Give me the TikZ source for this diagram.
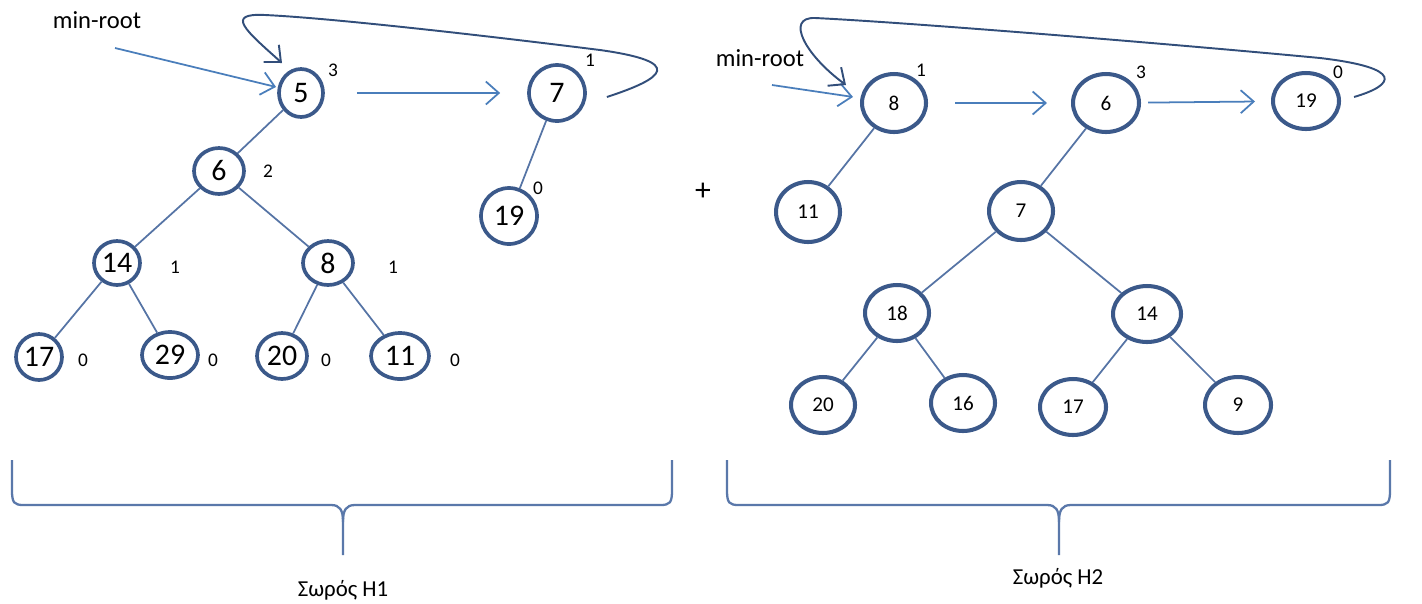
\documentclass[tikz,border=0pt]{standalone}
\usepackage{fontspec}
\setmainfont{Carlito}
\usetikzlibrary{shapes.geometric,arrows.meta}
\definecolor{ringBlue}{RGB}{59,89,138}
\definecolor{edgeBlue}{RGB}{86,116,165}
\definecolor{arrowBlue}{RGB}{74,126,187}
\definecolor{loopBlue}{RGB}{50,78,122}
\definecolor{braceBlue}{RGB}{90,120,170}

\begin{document}
\begin{tikzpicture}[x=0.02cm,y=-0.02cm,
  heapnode/.style={ellipse,draw=ringBlue,fill=white,inner sep=0pt},
  bignode/.style={heapnode,line width=2.1pt,font=\fontsize{17}{17}\selectfont},
  smallnode/.style={heapnode,line width=2.3pt,font=\fontsize{12}{12}\selectfont},
  deglbl/.style={inner sep=0pt,font=\fontsize{11}{11}\selectfont},
  treeedge/.style={edgeBlue,line width=1pt},
  listarrow/.style={arrowBlue,line width=1pt,-{Straight Barb[length=2.6mm,width=4.6mm]}},
  looparrow/.style={loopBlue,line width=1.1pt,-{Straight Barb[length=2.6mm,width=4.6mm]}},
  braceline/.style={braceBlue,line width=1.3pt}]
\useasboundingbox (0,0) rectangle (1422,603);

% heap H1
\node[font=\fontsize{14}{14}\selectfont] (mrA) at (97,20) {min-root};
\node[bignode,minimum width=0.88cm,minimum height=0.96cm] (a5) at (301,93) {5};
\node[bignode,minimum width=1.12cm,minimum height=1.12cm] (a7) at (557,93) {7};
\node[bignode,minimum width=1.00cm,minimum height=0.92cm] (a6) at (219,171) {6};
\node[bignode,minimum width=1.12cm,minimum height=1.12cm] (a19) at (509,216) {19};
\node[bignode,minimum width=0.92cm,minimum height=0.88cm] (a14) at (117,263) {14};
\node[bignode,minimum width=1.00cm,minimum height=0.88cm] (a8) at (328,263) {8};
\node[bignode,minimum width=0.92cm,minimum height=0.92cm] (a17) at (39,357) {17};
\node[bignode,minimum width=1.12cm,minimum height=0.92cm] (a29) at (170,355) {29};
\node[bignode,minimum width=1.00cm,minimum height=0.92cm] (a20) at (282,356) {20};
\node[bignode,minimum width=1.16cm,minimum height=0.92cm] (a11) at (400,356) {11};

\foreach \s/\t in {a5/a6,a6/a14,a6/a8,a14/a17,a14/a29,a8/a20,a8/a11,a7/a19}
  \draw[treeedge] (\s) -- (\t);

\coordinate (mrAtail) at (115,48);
\coordinate (loopAin) at (282,63);
\draw[listarrow,shorten >=1pt] (mrAtail) -- (a5);
\draw[listarrow,shorten <=0.64cm,shorten >=0.54cm] (a5) -- (a7);
\draw[looparrow] ([xshift=0.4cm,yshift=-0.08cm]a7.east)
  .. controls (665,78) and (685,62) .. (600,50)
  .. controls (480,35) and (330,18) .. (265,15)
  .. controls (225,13) and (245,30) .. (loopAin);

% heap H2
\node[font=\fontsize{14}{14}\selectfont] (mrB) at (760,58) {min-root};
\node[smallnode,minimum width=1.28cm,minimum height=1.16cm] (b8) at (894,103) {8};
\node[smallnode,minimum width=1.32cm,minimum height=1.16cm] (b6) at (1106,103) {6};
\node[smallnode,minimum width=1.32cm,minimum height=1.12cm] (b19) at (1306,101) {19};
\node[smallnode,minimum width=1.28cm,minimum height=1.20cm] (b11) at (808,212) {11};
\node[smallnode,minimum width=1.28cm,minimum height=1.16cm] (b7) at (1021,211) {7};
\node[smallnode,minimum width=1.28cm,minimum height=1.12cm] (b18) at (897,313) {18};
\node[smallnode,minimum width=1.36cm,minimum height=1.12cm] (b14) at (1147,314) {14};
\node[smallnode,minimum width=1.28cm,minimum height=1.12cm] (b20) at (823,405) {20};
\node[smallnode,minimum width=1.28cm,minimum height=1.12cm] (b16) at (963,403) {16};
\node[smallnode,minimum width=1.32cm,minimum height=1.12cm] (b17) at (1073,407) {17};
\node[smallnode,minimum width=1.32cm,minimum height=1.12cm] (b9) at (1238,405) {9};

\foreach \s/\t in {b8/b11,b6/b7,b7/b18,b7/b14,b18/b20,b18/b16,b14/b17,b14/b9}
  \draw[treeedge] (\s) -- (\t);

\coordinate (mrBtail) at (772,85);
\coordinate (loopBin) at (846,85);
\draw[listarrow,shorten >=0.15cm] (mrBtail) -- (b8);
\draw[listarrow,shorten <=0.54cm,shorten >=0.48cm] (b8) -- (b6);
\draw[listarrow,shorten <=0.14cm,shorten >=0.32cm] (b6) -- (b19);
\draw[looparrow] ([xshift=0.26cm,yshift=0.08cm]b19.east)
  .. controls (1395,85) and (1405,68) .. (1320,58)
  .. controls (1150,42) and (900,22) .. (815,18)
  .. controls (785,17) and (805,55) .. (loopBin);

% ranks
\foreach \x/\y/\t [count=\i] in {333/70/3,590/60/1,268/171/2,175/267/1,393/267/1,
    83/360/0,213/360/0,326/360/0,455/360/0,538/188/0,921/70/1,1141/72/3,1338/72/0}
  \node[deglbl] (dg\i) at (\x,\y) {\t};

\node[font=\fontsize{18}{18}\selectfont] (plus) at (703,192) {+};

% braces
\draw[braceline] (12,460) -- (12,490) .. controls (12,503) and (14,505) .. (24,505)
  -- (331,505) .. controls (340,505) and (343,510) .. (343,522) -- (343,555);
\draw[braceline] (672,460) -- (672,490) .. controls (672,503) and (670,505) .. (660,505)
  -- (355,505) .. controls (346,505) and (343,510) .. (343,522);
\draw[braceline] (727,460) -- (727,490) .. controls (727,503) and (729,505) .. (739,505)
  -- (1047,505) .. controls (1056,505) and (1059,510) .. (1059,522) -- (1059,555);
\draw[braceline] (1390,460) -- (1390,490) .. controls (1390,503) and (1388,505) .. (1378,505)
  -- (1071,505) .. controls (1062,505) and (1059,510) .. (1059,522);
\node[font=\fontsize{13}{13}\selectfont] (hA) at (343,590) {Σωρός H1};
\node[font=\fontsize{13}{13}\selectfont] (hB) at (1058,578) {Σωρός H2};
\end{tikzpicture}
\end{document}
